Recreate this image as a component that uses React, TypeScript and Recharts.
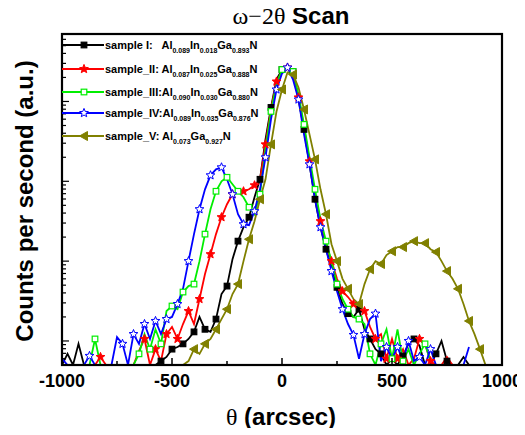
import React from 'react';
import { LineChart, Line, XAxis, YAxis } from 'recharts';

// θ grid (arcsec)
const theta = [
  -1000, -975, -950, -925, -900, -875, -850, -825, -800, -775,
  -750, -725, -700, -675, -650, -625, -600, -575, -550, -525,
  -500, -475, -450, -425, -400, -375, -350, -325, -300, -275,
  -250, -225, -200, -175, -150, -125, -100, -75, -50, -25,
  0, 25, 50, 75, 100, 125, 150, 175, 200, 225,
  250, 275, 300, 325, 350, 375, 400, 425, 450, 475,
  500, 525, 550, 575, 600, 625, 650, 675, 700, 725,
  750, 775, 800, 825, 850, 875, 900, 925, 950, 975, 1000,
];

// counts per second
const sampleI = [
  5, 6.9, 5, 9.2, 5, 5, 5, 5, 5, 5,
  5, 5, 5, 5, 5, 5, 5, 5, 5.6, 6.3,
  7.9, 8.4, 9.2, 10.6, 13, 20, 14, 13, 18.8, 38.7,
  48.7, 106, 178, 266, 355, 631, 1059, 3350, 8414, 18836,
  25119, 26607, 23714, 10593, 4467, 1631, 596, 266, 141, 84,
  47, 29, 22, 20, 25, 14, 10.6, 7.9, 6.9, 5,
  6, 5, 6.5, 9.2, 10.6, 8.7, 5, 5, 6.9, 10,
  5.6, 5, 5, 6.3, 5, null, null, null, null, null, null,
];

const sampleII = [
  null, null, null, null, null, null, 5, 6.3, 5, 5,
  5, 5, 5, 5, 7.5, 10.6, 5, 7.9, 5.6, 12.2,
  15, 10.6, 16.3, 23.7, 16.3, 33.5, 69, 122, 218, 355,
  516, 688, 750, 750, 794, 891, 1059, 2900, 7943, 17783,
  23714, 26607, 21135, 11220, 4732, 1778, 688, 316, 163, 100,
  60, 42, 35.5, 29, 25, 23.7, 15, 10.6, 12.2, 6,
  10.6, 6, 7.9, 5, 6, 10.6, 9.2, 5.6, 5, 5,
  6.3, 5, null, null, null, null, null, null, null, null, null,
];

const sampleIII = [
  null, null, null, null, 5, 5, 10.6, 5, 5, 5,
  5, 5, 5, 5, 6.9, 12.2, 7.9, 14, 9.2, 23.7,
  27.4, 25, 41, 48.7, 51.6, 100, 218, 447, 750, 1000,
  1122, 917, 750, 631, 473, 387, 688, 2512, 7499, 16310,
  25119, 28184, 23714, 12230, 5160, 1995, 794, 335, 178, 100,
  51.6, 33.5, 25, 20, 18.8, 16.3, 6.9, 5, 9.2, 14,
  6, 14, 5.6, 7.9, 5, 6.9, 9.2, 5.6, null, null,
  null, null, null, null, null, null, null, null, null, null, null,
];

const sampleIV = [
  6, 5, 5, 5, 5, 6.5, 5, 5, 5, 5,
  11.2, 9.2, 5, 12.2, 9.2, 16.3, 10.6, 17.8, 12.2, 18.8,
  20, 29, 45, 100, 218, 447, 794, 1189, 1413, 1496,
  1059, 688, 387, 290, 282, 422, 794, 1995, 5957, 14125,
  22387, 26607, 18836, 10593, 3873, 1631, 596, 266, 141, 75,
  42, 25, 16.3, 11.9, 6, 12.2, 18.8, 22, 5.6, 8.4,
  6, 8.4, 5.6, 10, 5.6, 6.3, 5, 7.9, 5, 5,
  5, 5, 5, 5, 8.4, null, null, null, null, null, null,
];

const sampleV = [
  null, null, null, null, null, null, null, null, null, null,
  null, null, null, null, null, null, null, null, null, null,
  null, null, 5, 5.6, 7.9, 6.9, 9.2, 10.6, 14, 18.8,
  25, 38.7, 51.6, 100, 188, 316, 596, 1059, 2900, 7499,
  14125, 23052, 21750, 14962, 7943, 3873, 1884, 794, 387, 163,
  100, 60, 45, 33.5, 29, 51.6, 79, 100, 92, 119,
  133, 150, 150, 168, 178, 168, 168, 141, 130, 100,
  75, 60, 45, 29, 17.8, 12.2, 7.9, 5, null, null, null,
];

const xTicks = [-1000, -750, -500, -250, 0, 250, 500, 750, 1000];
const yTicks = [
  5, 6, 7, 8, 9, 10, 20, 30, 40, 50, 60, 70, 80, 90,
  100, 200, 300, 400, 500, 600, 700, 800, 900,
  1000, 2000, 3000, 4000, 5000, 6000, 7000, 8000, 9000,
  10000, 20000, 30000, 40000, 50000, 60000, 70000,
];

const series = [
  { key: 's1', vals: sampleI, color: '#000000', shape: 'square', fill: '#000000', offset: 0,
    label: ['sample I:   Al', '0.089', 'In', '0.018', 'Ga', '0.893', 'N'] },
  { key: 's2', vals: sampleII, color: '#ff0000', shape: 'star', fill: '#ff0000', offset: 1,
    label: ['sample_II: Al', '0.087', 'In', '0.025', 'Ga', '0.888', 'N'] },
  { key: 's3', vals: sampleIII, color: '#00ee00', shape: 'square', fill: '#ffffff', offset: 0,
    label: ['sample_III:Al', '0.090', 'In', '0.030', 'Ga', '0.880', 'N'] },
  { key: 's4', vals: sampleIV, color: '#0000ff', shape: 'star', fill: '#ffffff', offset: 1,
    label: ['sample_IV:Al', '0.089', 'In', '0.035', 'Ga', '0.876', 'N'] },
  { key: 's5', vals: sampleV, color: '#808000', shape: 'tri', fill: '#808000', offset: 0,
    label: ['sample_V: Al', '0.073', 'Ga', '0.927', 'N'] },
];

const rows = theta.map((t, i) => {
  const r: any = { theta: t };
  series.forEach((s) => { r[s.key] = s.vals[i]; });
  return r;
});

const sans = '"Liberation Sans", Arial, sans-serif';
const serif = '"Liberation Serif", "Times New Roman", serif';

const W = 517;
const H = 420;
const M = { top: 26, right: 23, left: 44, bottom: 23 };
// plot box inside the chart (left = margin + y axis width, bottom = height - margin - x axis height)
const PX = M.left + 10;
const PY = M.top;
const PW = W - PX - M.right;
const PH = H - M.top - M.bottom - 40;

const Marker = ({ shape, cx, cy, color, fill }: any) => {
  if (shape === 'square') {
    return <rect x={cx - 2.8} y={cy - 2.8} width={5.6} height={5.6} fill={fill} stroke={color} strokeWidth={1.2} />;
  }
  if (shape === 'star') {
    const pts: string[] = [];
    for (let k = 0; k < 10; k++) {
      const r = k % 2 ? 2 : 4.6;
      const a = (-90 + 36 * k) * Math.PI / 180;
      pts.push(`${cx + r * Math.cos(a)},${cy + r * Math.sin(a)}`);
    }
    return <polygon points={pts.join(' ')} fill={fill} stroke={color} strokeWidth={1} />;
  }
  return <polygon points={`${cx - 4.5},${cy} ${cx + 3.5},${cy - 4.5} ${cx + 3.5},${cy + 4.5}`} fill={fill} stroke={color} strokeWidth={1} />;
};

const XTick = (props: any) => {
  const { x, y, payload } = props;
  const v = payload.value;
  const major = v % 500 === 0;
  return (
    <g>
      <line x1={x} x2={x} y1={y} y2={y - (major ? 7 : 4)} stroke="#000" strokeWidth={1.5} />
      {major && (
        <text x={x} y={y + 22} textAnchor="middle" fontSize={18} fontWeight="bold" fontFamily={sans} fill="#000">
          {v}
        </text>
      )}
    </g>
  );
};

const YTick = (props: any) => {
  const { x, y, payload } = props;
  const major = [10, 100, 1000, 10000].includes(payload.value);
  return <line x1={x} x2={x + (major ? 7 : 4)} y1={y} y2={y} stroke="#000" strokeWidth={1.2} />;
};

const makeDot = (s: any) => (p: any) => {
  const { cx, cy, index, payload } = p;
  const v = payload ? payload[s.key] : null;
  if (cx == null || cy == null || v == null || v <= 5 || index % 2 !== s.offset) {
    return <g key={`${s.key}-${index}`} />;
  }
  return (
    <g key={`${s.key}-${index}`}>
      <Marker shape={s.shape} cx={cx} cy={cy} color={s.color} fill={s.fill} />
    </g>
  );
};

export default function App() {
  return (
    <div style={{ position: 'relative', width: W, height: H, fontFamily: sans }}>
      <LineChart width={W} height={H} data={rows} margin={M}>
        <XAxis
          dataKey="theta"
          type="number"
          domain={[-1000, 1000]}
          ticks={xTicks}
          interval={0}
          tick={<XTick />}
          tickLine={false}
          axisLine={false}
          tickSize={0}
          tickMargin={0}
          height={40}
          allowDataOverflow
        />
        <YAxis
          type="number"
          scale="log"
          domain={[5, 70000]}
          ticks={yTicks}
          interval={0}
          tick={<YTick />}
          tickLine={false}
          axisLine={false}
          tickSize={0}
          tickMargin={0}
          width={10}
          allowDataOverflow
        />
        {series.map((s) => (
          <Line
            key={s.key}
            dataKey={s.key}
            stroke={s.color}
            strokeWidth={1.8}
            type="linear"
            dot={makeDot(s)}
            activeDot={false}
            isAnimationActive={false}
          />
        ))}
      </LineChart>

      {/* plot frame drawn over the chart */}
      <svg
        width={W}
        height={H}
        style={{ position: 'absolute', left: 0, top: 0, zIndex: 5, pointerEvents: 'none' }}
      >
        <rect x={PX} y={PY} width={PW} height={PH} fill="none" stroke="#000000" strokeWidth={2.2} />
      </svg>

      {/* title */}
      <div style={{ position: 'absolute', left: 83, width: 400, top: -6, lineHeight: '28px', textAlign: 'center', fontSize: 24, whiteSpace: 'nowrap' }}>
        <span style={{ fontFamily: serif }}>ω−2θ</span> <span style={{ fontWeight: 'bold' }}>Scan</span>
      </div>

      {/* x label */}
      <div style={{ position: 'absolute', left: 73, width: 400, top: 395, lineHeight: '28px', textAlign: 'center', fontSize: 24, fontWeight: 'bold', whiteSpace: 'nowrap' }}>
        <span style={{ fontFamily: serif, fontWeight: 'normal' }}>θ</span> (arcsec)
      </div>

      {/* y label */}
      <div style={{ position: 'absolute', left: 17 - 170, top: 193 - 14, width: 340, lineHeight: '28px', textAlign: 'center', fontSize: 24, fontWeight: 'bold', whiteSpace: 'nowrap', transform: 'rotate(-90deg)' }}>
        Counts per second (a.u.)
      </div>

      {/* legend */}
      {series.map((s, i) => {
        const cy = [37, 61, 84, 105, 128][i];
        return (
          <div key={s.key} style={{ position: 'absolute', left: 54, top: cy - 10, height: 20, display: 'flex', alignItems: 'center', zIndex: 6 }}>
            <svg width={42} height={20} style={{ display: 'block' }}>
              <line x1={0} x2={42} y1={10} y2={10} stroke={s.color} strokeWidth={1.8} />
              <Marker shape={s.shape} cx={22} cy={10} color={s.color} fill={s.fill} />
            </svg>
            <span style={{ fontSize: 11, fontWeight: 'bold', whiteSpace: 'pre', marginLeft: 1 }}>
              {s.label.map((t, k) =>
                k % 2 === 1 && k < s.label.length - 1 ? (
                  <span key={k} style={{ fontSize: 7, position: 'relative', top: 4 }}>{t}</span>
                ) : (
                  <span key={k}>{t}</span>
                )
              )}
            </span>
          </div>
        );
      })}
    </div>
  );
}
